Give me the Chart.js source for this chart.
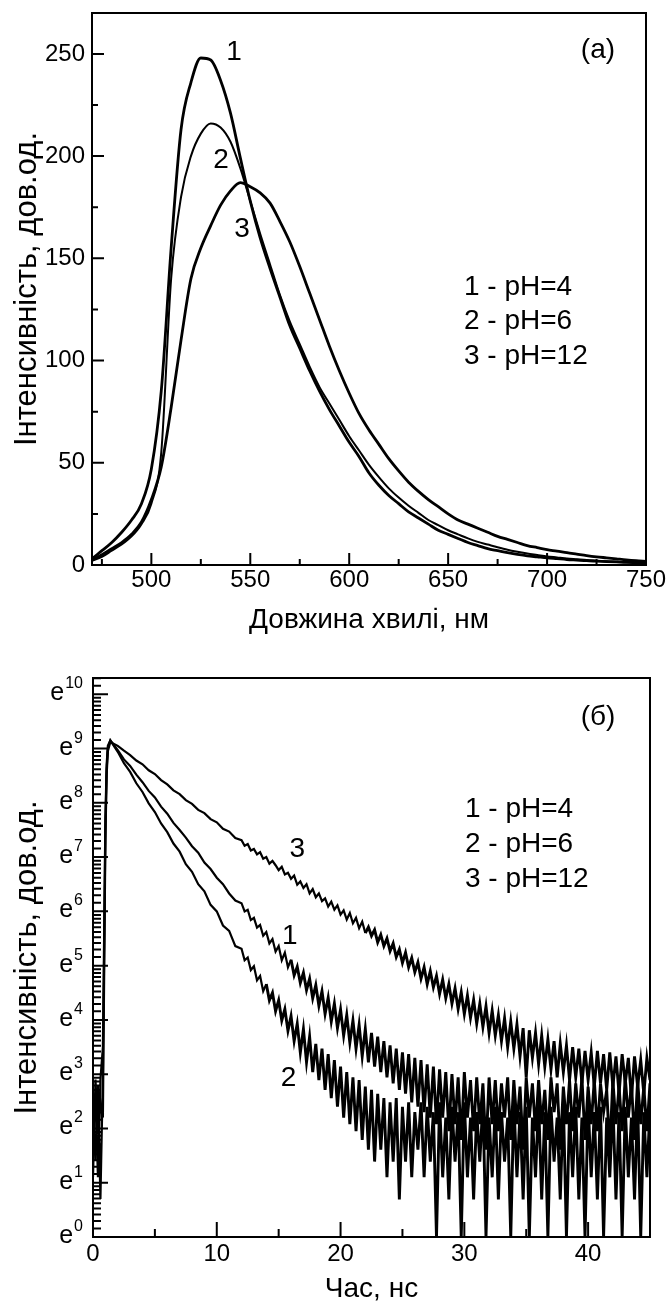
<!DOCTYPE html>
<html>
<head>
<meta charset="utf-8">
<script src="https://cdn.jsdelivr.net/npm/chart.js@4.4.1/dist/chart.umd.min.js"></script>
<style>
    html, body { margin: 0; padding: 0; background: #fff; }
    #wrap { position: relative; width: 669px; height: 1303px; }
    canvas { position: absolute; left: 0; }
    #spectra { top: 0; }
    #decay { top: 650px; }
</style>
</head>
<body>
<div id="wrap">
    <canvas id="spectra" width="669" height="650"></canvas>
    <canvas id="decay" width="669" height="653"></canvas>
</div>
<script>
// (а) emission spectra, nm
const wavelengths = [470,475,480,485,490,495,500,505,510,515,520,525,530,535,540,545,550,555,560,565,570,575,580,585,590,595,600,605,610,615,620,625,630,635,640,645,650,655,660,665,670,675,680,685,690,695,700,705,710,715,720,725,730,735,740,745,750];
const specPH4 = [3,7,11,16,22,30,47,85,155,213,236,248,247,237,221,199,178,160,145,131,117,106,95,85,76,68,60,53,45,39,34,30,26,23,20,17,15,13,11,9.5,8,7,6,5.2,4.5,4,3.5,3.1,2.7,2.4,2.1,1.9,1.7,1.5,1.3,1.2,1.1];
const specPH6 = [2,4,7,10,14,20,30,55,140,180,200,211,216,214,207,194,178,162,147,132,119,108,97,87,79,71,63,56,49,43,37.5,33,29,25.5,22,19.5,17,15,13,11.3,10,8.7,7.5,6.5,5.6,4.9,4.2,3.7,3.2,2.8,2.4,2.1,1.8,1.6,1.4,1.2,1.1];
const specPH12 = [2.5,5,8,11,15,21,32,48,77,110,140,155,166,176,183,187,185,182,177,168,158,146,133,120,107,95,84,74,66,59,52,46,40.5,36,32,28.5,25,22,20,18,16,14,12.5,11,9.5,8.5,7.5,6.8,6,5.3,4.6,4,3.5,3,2.5,2.1,1.8];

// (б) decay curves: time, ns and ln(intensity)
const times = [0,0.2,0.4,0.6,0.8,0.9,1.0,1.1,1.2,1.4,
    2,2.5,3,3.5,4,4.5,5,5.5,6,6.5,7,7.5,8,8.5,9,9.5,10,10.5,11,11.5,
    12,12.25,12.5,12.75,13,13.25,13.5,13.75,14,14.25,14.5,14.75,15,15.25,15.5,15.75,
    16,16.25,16.5,16.75,17,17.25,17.5,17.75,18,18.25,18.5,18.75,19,19.25,19.5,19.75,
    20,20.25,20.5,20.75,21,21.25,21.5,21.75,22,22.25,22.5,22.75,23,23.25,23.5,23.75,
    24,24.25,24.5,24.75,25,25.25,25.5,25.75,26,26.25,26.5,26.75,27,27.25,27.5,27.75,
    28,28.25,28.5,28.75,29,29.25,29.5,29.75,30,30.25,30.5,30.75,31,31.25,31.5,31.75,
    32,32.25,32.5,32.75,33,33.25,33.5,33.75,34,34.25,34.5,34.75,35,35.25,35.5,35.75,
    36,36.25,36.5,36.75,37,37.25,37.5,37.75,38,38.25,38.5,38.75,39,39.25,39.5,39.75,
    40,40.25,40.5,40.75,41,41.25,41.5,41.75,42,42.25,42.5,42.75,43,43.25,43.5,43.75,
    44,44.25,44.5,44.75,45];
const decayPH4 = [1.8,2.6,1.1,2.9,3.5,5.6,7.7,8.7,9.05,9.15,
    8.97,8.80,8.68,8.52,8.38,8.22,8.10,7.93,7.80,7.63,
    7.50,7.36,7.20,7.08,6.90,6.78,6.62,6.50,6.33,6.20,
    6.15,6.00,6.03,5.84,5.88,5.70,5.75,5.55,5.62,5.41,5.49,5.26,5.36,5.10,5.24,4.97,
    5.11,4.82,4.98,4.68,4.87,4.55,4.76,4.40,4.64,4.26,4.53,4.11,4.41,3.97,4.30,3.85,
    4.19,3.71,4.09,3.58,3.99,3.47,3.91,3.33,3.83,3.22,3.76,3.14,3.69,3.04,3.61,2.94,
    3.53,2.83,3.47,2.71,3.40,2.64,3.37,2.48,3.30,2.40,3.26,2.30,3.18,2.20,3.14,2.08,
    3.09,2.20,3.04,1.95,3.00,2.08,2.94,1.79,3.04,2.20,2.89,1.95,2.94,2.08,2.83,1.61,
    2.94,2.08,2.89,1.95,2.83,2.20,2.94,1.79,2.89,2.08,2.77,1.61,2.94,2.20,2.83,1.95,
    2.89,2.08,2.71,1.79,2.94,2.30,2.83,1.61,2.77,2.08,2.89,1.95,2.83,2.20,2.94,1.79,
    2.77,2.08,2.89,1.95,2.83,2.30,2.71,1.61,2.89,2.08,2.77,1.95,2.94,2.20,2.83,1.79,
    2.89,2.08,2.77,1.95,2.83];
const decayPH6 = [2.3,1.4,2.8,0.7,3.0,5.2,7.5,8.6,9.0,9.15,
    8.94,8.73,8.57,8.36,8.20,7.99,7.83,7.62,7.46,7.25,
    7.10,6.87,6.73,6.50,6.37,6.12,6.00,5.74,5.64,5.36,
    5.31,5.10,5.15,4.92,4.99,4.73,4.81,4.53,4.66,4.36,4.50,4.16,4.36,3.99,4.20,3.80,
    4.07,3.61,3.93,3.40,3.83,3.22,3.69,3.04,3.56,2.89,3.47,2.71,3.37,2.56,3.26,2.40,
    3.14,2.20,3.04,2.08,2.94,1.95,2.89,1.79,2.77,1.61,2.71,1.39,2.64,1.61,2.56,1.10,
    2.48,1.39,2.56,0.69,2.40,1.39,2.48,1.10,2.30,1.61,2.48,1.10,2.40,1.39,2.30,0,
    2.48,1.10,2.20,0.69,2.40,1.39,2.30,0,2.48,1.10,2.20,0.69,2.30,1.39,2.48,0,
    2.20,1.10,2.40,0.69,2.30,1.39,2.20,0,2.48,1.10,2.30,0.69,2.40,0,2.20,1.10,
    2.48,0.69,2.30,0,2.40,1.39,2.20,0.69,2.48,0,2.30,1.10,2.40,0.69,2.20,0,
    2.48,1.10,2.30,0.69,2.40,0,2.20,1.10,2.48,0.69,2.30,0,2.40,1.10,2.20,0.69,
    2.48,0,2.30,1.10,2.40];
const decayPH12 = [1.1,2.9,1.9,2.5,2.2,4.8,7.3,8.5,8.95,9.12,
    9.05,8.96,8.88,8.78,8.71,8.60,8.53,8.42,8.34,8.23,
    8.16,8.05,7.98,7.87,7.81,7.70,7.64,7.52,7.47,7.35,
    7.31,7.21,7.24,7.12,7.15,7.05,7.09,6.97,7.00,6.88,6.93,6.85,6.76,6.82,6.68,6.71,
    6.60,6.66,6.49,6.55,6.43,6.50,6.33,6.41,6.26,6.33,6.19,6.24,6.09,6.18,6.03,6.11,
    5.94,6.02,5.85,5.97,5.78,5.88,5.69,5.81,5.60,5.71,5.55,5.66,5.43,5.57,5.36,5.50,
    5.27,5.41,5.16,5.30,5.05,5.24,4.97,5.14,4.88,5.06,4.76,4.97,4.66,4.90,4.60,4.81,
    4.48,4.74,4.40,4.66,4.30,4.58,4.20,4.51,4.11,4.45,4.04,4.37,3.93,4.30,3.87,4.25,
    3.76,4.17,3.71,4.09,3.61,4.03,3.50,3.97,3.47,3.92,3.33,3.85,2.94,3.81,3.30,3.76,
    3.18,3.71,3.14,3.64,3.09,3.61,2.94,3.56,3.04,3.53,2.89,3.50,2.94,3.47,2.83,3.43,
    2.89,3.40,2.77,3.43,2.83,3.37,2.71,3.40,2.77,3.33,2.64,3.37,2.83,3.30,2.56,3.33,
    2.77,3.26,2.64,3.30,2.89];

// ticks
const xTicksA = [500,550,600,650,700,750];
const xMinorA = [475,525,575,625,675,725];
const yTicksA = [0,50,100,150,200,250];
const yMinorA = [25,75,125,175,225];
const xTicksB = [0,10,20,30,40];
const xMinorB = [5,15,25,35];
const yTicksB = [0,1,2,3,4,5,6,7,8,9,10];

const legendLines = ['1 - pH=4', '2 - pH=6', '3 - pH=12'];
const yTitle = 'Інтенсивність, дов.од.';

const FONT = "'Liberation Sans', Arial, sans-serif";

// minor ticks of the ln axis: nine linear steps between e^n and e^(n+1)
const yMinorB = [];
for (let n = 0; n <= 10; n++) {
    for (let k = 1; k <= 9; k++) {
        const v = Math.log(Math.exp(n) + k * (Math.exp(n + 1) - Math.exp(n)) / 10);
        if (v < 10.3) yMinorB.push(v);
    }
}

function lineSet(xs, ys, width, noisyFrom) {
    const set = {
        data: xs.map((x, i) => ({ x: x, y: ys[i] })),
        borderColor: '#000',
        borderWidth: width,
        pointRadius: 0,
        fill: false
    };
    // the noisy tail of a decay reads as a solid band, so draw it a bit heavier
    if (noisyFrom !== undefined) {
        set.segment = { borderWidth: c => (c.p0.parsed.x >= noisyFrom ? 2.9 : width) };
    }
    return set;
}

// frame + inward ticks
const framePlugin = {
    id: 'frame',
    afterDatasetsDraw(chart, args, o) {
        const { ctx, chartArea: a } = chart;
        const sx = chart.scales.x, sy = chart.scales.y;
        ctx.save();
        ctx.strokeStyle = '#000';
        ctx.lineWidth = 2;
        ctx.beginPath();
        o.xMajor.forEach(v => { const p = sx.getPixelForValue(v); ctx.moveTo(p, a.bottom); ctx.lineTo(p, a.bottom - o.major); });
        o.xMinor.forEach(v => { const p = sx.getPixelForValue(v); ctx.moveTo(p, a.bottom); ctx.lineTo(p, a.bottom - o.minor); });
        o.yMajor.forEach(v => { const p = sy.getPixelForValue(v); ctx.moveTo(a.left, p); ctx.lineTo(a.left + o.major, p); });
        o.yMinor.forEach(v => { const p = sy.getPixelForValue(v); ctx.moveTo(a.left, p); ctx.lineTo(a.left + o.minor, p); });
        ctx.stroke();
        ctx.strokeRect(a.left, a.top, a.right - a.left, a.bottom - a.top);
        ctx.restore();
    }
};

// curve numbers, panel letter and the text legend, placed in data units
const notesPlugin = {
    id: 'notes',
    afterDatasetsDraw(chart, args, o) {
        const ctx = chart.ctx;
        const sx = chart.scales.x, sy = chart.scales.y;
        ctx.save();
        ctx.fillStyle = '#000';
        ctx.font = o.size + 'px ' + FONT;
        ctx.textBaseline = 'middle';
        o.items.forEach(it => {
            ctx.textAlign = it.align || 'center';
            ctx.fillText(it.text, sx.getPixelForValue(it.x), sy.getPixelForValue(it.y));
        });
        ctx.restore();
    }
};

// e^n labels of the ln axis
const expLabels = {
    id: 'expLabels',
    afterDraw(chart, args, o) {
        if (!o.ticks) return;
        const ctx = chart.ctx;
        const sy = chart.scales.y;
        const right = chart.chartArea.left - o.gap;
        ctx.save();
        ctx.fillStyle = '#000';
        ctx.textBaseline = 'alphabetic';
        o.ticks.forEach(n => {
            const p = sy.getPixelForValue(n);
            ctx.font = '16px ' + FONT;
            const w = ctx.measureText(String(n)).width;
            ctx.textAlign = 'left';
            ctx.fillText(String(n), right - w, p - 6);
            ctx.font = '25px ' + FONT;
            ctx.textAlign = 'right';
            ctx.fillText('e', right - w - 1, p + 6);
        });
        ctx.restore();
    }
};

function baseOptions(cfg) {
    return {
        responsive: false,
        animation: false,
        devicePixelRatio: 1,
        layout: { padding: cfg.padding },
        elements: { line: cfg.line || {} },
        plugins: {
            legend: { display: false },
            tooltip: { enabled: false },
            frame: cfg.frame,
            notes: cfg.notes,
            expLabels: cfg.exp || {}
        },
        scales: {
            x: {
                type: 'linear', min: cfg.xMin, max: cfg.xMax,
                grid: { display: false, drawTicks: false },
                border: { display: false },
                afterBuildTicks: s => { s.ticks = cfg.xTicks.map(v => ({ value: v })); },
                afterFit: s => { s.height = cfg.xHeight; s.paddingLeft = 0; s.paddingRight = 0; },
                ticks: { padding: cfg.xPad, color: '#000', maxRotation: 0, autoSkip: false, font: { family: FONT, size: 24 } },
                title: { display: true, text: cfg.xTitle, color: '#000', font: { family: FONT, size: 28, lineHeight: 1 }, padding: { top: 0, bottom: cfg.xTitlePad } }
            },
            y: {
                type: 'linear', min: cfg.yMin, max: cfg.yMax,
                grid: { display: false, drawTicks: false },
                border: { display: false },
                afterBuildTicks: s => { s.ticks = cfg.yTicks.map(v => ({ value: v })); },
                afterFit: s => { s.width = cfg.yWidth; s.paddingTop = 0; s.paddingBottom = 0; },
                ticks: { display: cfg.yLabels, padding: 7, color: '#000', font: { family: FONT, size: 24 } },
                title: { display: true, text: yTitle, color: '#000', font: { family: FONT, size: 31, lineHeight: 1 }, padding: { top: 11.5, bottom: 0 } }
            }
        }
    };
}

// (а)
new Chart(document.getElementById('spectra'), {
    type: 'line',
    data: {
        datasets: [
            lineSet(wavelengths, specPH4, 2.8),
            lineSet(wavelengths, specPH6, 2),
            lineSet(wavelengths, specPH12, 2.8)
        ]
    },
    options: baseOptions({
        padding: { top: 13, right: 23, left: 0, bottom: 0 },
        line: { cubicInterpolationMode: 'monotone' },
        xMin: 470, xMax: 750, xTicks: xTicksA, xHeight: 85, xPad: 1, xTitlePad: 16,
        xTitle: 'Довжина хвилі, нм',
        yMin: 0, yMax: 270, yTicks: yTicksA, yWidth: 92, yLabels: true,
        frame: { xMajor: xTicksA, xMinor: xMinorA, yMajor: yTicksA, yMinor: yMinorA, major: 12, minor: 6 },
        notes: {
            size: 28,
            items: [
                { text: '1', x: 541.8, y: 251 },
                { text: '2', x: 535.2, y: 198 },
                { text: '3', x: 545.8, y: 164 },
                { text: '(а)', x: 725.7, y: 252 },
                { text: legendLines[0], x: 658, y: 136, align: 'left' },
                { text: legendLines[1], x: 658, y: 119, align: 'left' },
                { text: legendLines[2], x: 658, y: 102, align: 'left' }
            ]
        }
    }),
    plugins: [framePlugin, notesPlugin]
});

// (б)
new Chart(document.getElementById('decay'), {
    type: 'line',
    data: {
        datasets: [
            lineSet(times, decayPH12, 2.2, 22),
            lineSet(times, decayPH4, 2.2, 16),
            lineSet(times, decayPH6, 2.2, 14)
        ]
    },
    options: baseOptions({
        padding: { top: 28, right: 19, left: 0, bottom: 0 },
        xMin: 0, xMax: 45, xTicks: xTicksB, xHeight: 66, xPad: 3, xTitlePad: 0,
        xTitle: 'Час, нс',
        yMin: 0, yMax: 10.3, yTicks: yTicksB, yWidth: 93, yLabels: false,
        frame: { xMajor: xTicksB, xMinor: xMinorB, yMajor: yTicksB, yMinor: yMinorB, major: 15, minor: 8 },
        exp: { ticks: yTicksB, gap: 10 },
        notes: {
            size: 28,
            items: [
                { text: '3', x: 16.5, y: 7.14 },
                { text: '1', x: 15.9, y: 5.54 },
                { text: '2', x: 15.8, y: 2.93 },
                { text: '(б)', x: 40.8, y: 9.58 },
                { text: legendLines[0], x: 30.05, y: 7.88, align: 'left' },
                { text: legendLines[1], x: 30.05, y: 7.23, align: 'left' },
                { text: legendLines[2], x: 30.05, y: 6.59, align: 'left' }
            ]
        }
    }),
    plugins: [framePlugin, notesPlugin, expLabels]
});
</script>
</body>
</html>
